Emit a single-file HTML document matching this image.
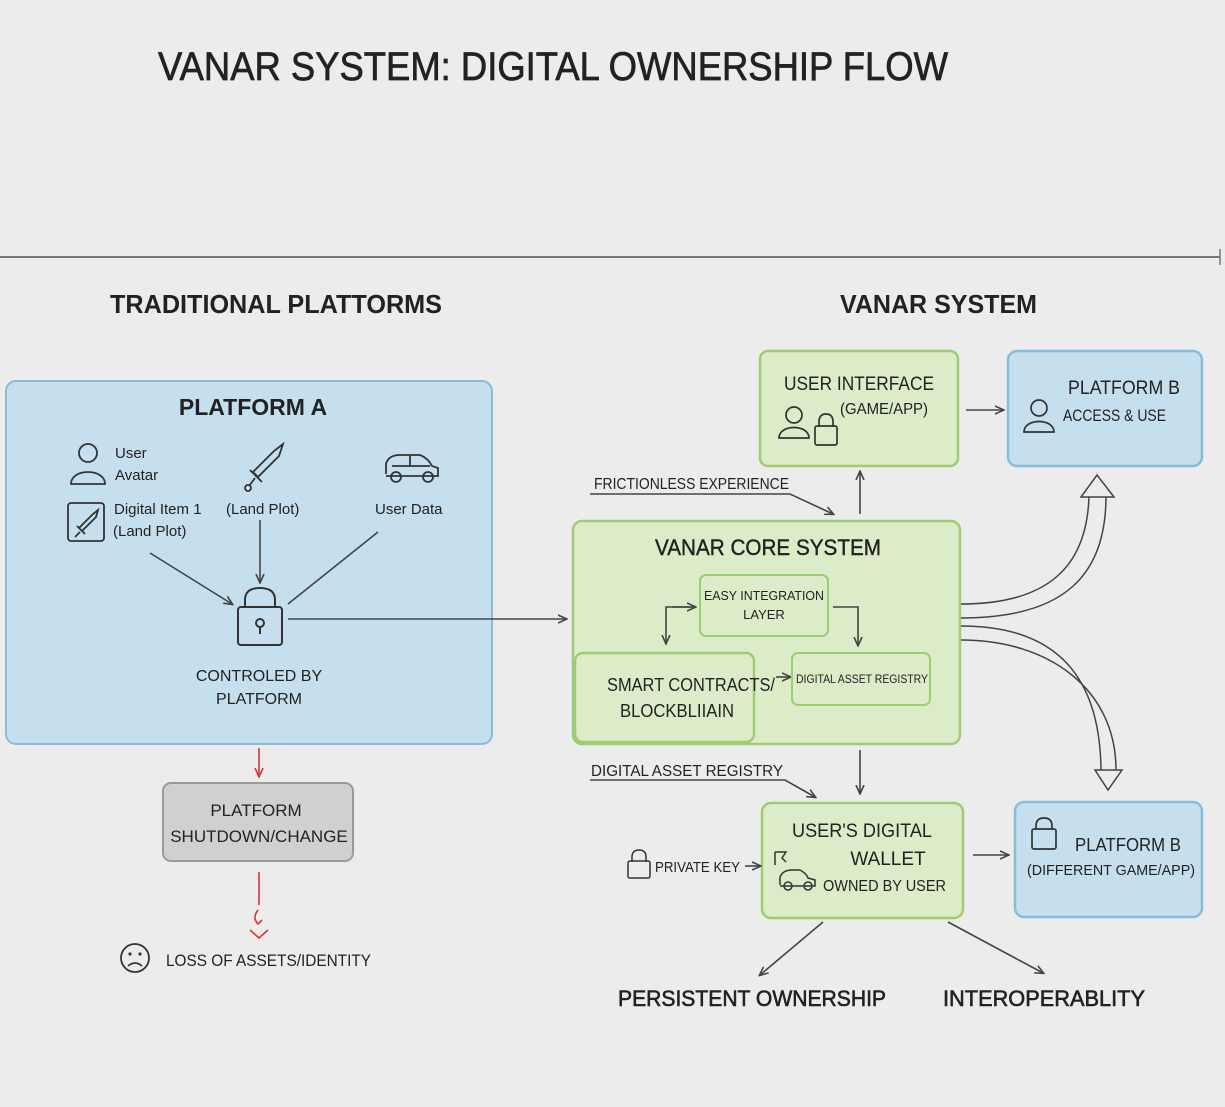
<!DOCTYPE html>
<html><head><meta charset="utf-8"><style>
html,body{margin:0;padding:0;background:#ececec;}
svg{display:block;font-family:"Liberation Sans",sans-serif;}
</style></head><body>
<svg width="1225" height="1107" viewBox="0 0 1225 1107" xmlns="http://www.w3.org/2000/svg">
<defs>
<marker id="ar" markerWidth="10" markerHeight="10" refX="8" refY="5" orient="auto" markerUnits="userSpaceOnUse"><path d="M0,1 L9,5 L0,9" fill="none" stroke="#444" stroke-width="1.6"/></marker>
<marker id="rr" markerWidth="10" markerHeight="10" refX="8" refY="5" orient="auto" markerUnits="userSpaceOnUse"><path d="M0,1 L9,5 L0,9" fill="none" stroke="#d33" stroke-width="1.6"/></marker>
</defs>
<rect width="1225" height="1107" fill="#ececec"/>
<text x="158" y="80" font-size="40" fill="#222" stroke="#222" stroke-width="0.7" textLength="790" lengthAdjust="spacingAndGlyphs">VANAR SYSTEM: DIGITAL OWNERSHIP FLOW</text>
<line x1="0" y1="257" x2="1220" y2="257" stroke="#777" stroke-width="2"/>
<line x1="1220" y1="249" x2="1220" y2="265" stroke="#777" stroke-width="1.5"/>
<text x="110" y="313" font-size="26" font-weight="bold" fill="#222" textLength="332" lengthAdjust="spacingAndGlyphs">TRADITIONAL PLATTORMS</text>
<text x="840" y="313" font-size="26" font-weight="bold" fill="#222" textLength="197" lengthAdjust="spacingAndGlyphs">VANAR SYSTEM</text>

<rect x="6" y="381" width="486" height="363" rx="10" fill="#c5dfee" stroke="#86bcdc" stroke-width="2"/>
<text x="253" y="415" font-size="23" font-weight="bold" fill="#222" text-anchor="middle">PLATFORM A</text>
<g fill="none" stroke="#333" stroke-width="1.8">
<circle cx="88" cy="453" r="9"/><path d="M71,484 C71,468 105,468 105,484 Z"/>
<path d="M283,444 L279,456 L258,477 L253,472 L274,451 Z M250,470 L262,482 M255,478 L249,486"/><circle cx="248" cy="488" r="3"/>
<path d="M386,474 L386,464 Q388,456 398,455 L420,455 Q428,458 432,466 L438,468 L438,476 L386,476"/><circle cx="396" cy="477" r="5"/><circle cx="428" cy="477" r="5"/><line x1="410" y1="455" x2="410" y2="466"/><line x1="392" y1="466" x2="430" y2="466"/>
<rect x="68" y="503" width="36" height="38" rx="3"/>
<path d="M98,510 L96,517 L82,531 L79,528 L93,514 Z M77,526 L85,534 M80,532 L75,537"/>
</g>
<text x="115" y="458" font-size="15" fill="#222">User</text>
<text x="115" y="480" font-size="15" fill="#222">Avatar</text>
<text x="114" y="514" font-size="15" fill="#222">Digital Item 1</text>
<text x="113" y="536" font-size="15" fill="#222">(Land Plot)</text>
<text x="226" y="514" font-size="15" fill="#222">(Land Plot)</text>
<text x="375" y="514" font-size="15" fill="#222">User Data</text>
<g stroke="#444" stroke-width="1.6" fill="none">
<line x1="150" y1="553" x2="232" y2="604" marker-end="url(#ar)"/>
<line x1="260" y1="520" x2="260" y2="582" marker-end="url(#ar)"/>
<line x1="378" y1="532" x2="288" y2="604"/>
<line x1="288" y1="619" x2="566" y2="619" marker-end="url(#ar)"/>
</g>
<g fill="none" stroke="#333" stroke-width="2">
<path d="M245,608 L245,600 Q245,588 260,588 Q275,588 275,600 L275,608"/>
<rect x="238" y="607" width="44" height="38" rx="3"/>
<circle cx="260" cy="623" r="4"/><line x1="260" y1="627" x2="260" y2="634"/>
</g>
<text x="259" y="681" font-size="16" fill="#222" text-anchor="middle">CONTROLED BY</text>
<text x="259" y="704" font-size="16" fill="#222" text-anchor="middle">PLATFORM</text>
<line x1="259" y1="748" x2="259" y2="776" stroke="#d33" stroke-width="1.6" marker-end="url(#rr)"/>
<rect x="163" y="783" width="190" height="78" rx="8" fill="#d0d0d0" stroke="#9a9a9a" stroke-width="2"/>
<text x="256" y="816" font-size="17" fill="#222" text-anchor="middle">PLATFORM</text>
<text x="259" y="842" font-size="17" fill="#222" text-anchor="middle">SHUTDOWN/CHANGE</text>
<g stroke="#d33" stroke-width="1.6" fill="none">
<line x1="259" y1="872" x2="259" y2="905"/>
<path d="M258,910 Q252,918 258,924 L262,920"/>
<path d="M250,930 L259,938 L268,930"/>
</g>
<circle cx="135" cy="958" r="14" fill="none" stroke="#333" stroke-width="1.8"/>
<circle cx="130" cy="954" r="1.6" fill="#333"/><circle cx="140" cy="954" r="1.6" fill="#333"/>
<path d="M128,966 Q135,960 142,966" fill="none" stroke="#333" stroke-width="1.6"/>
<text x="166" y="966" font-size="17" fill="#222" textLength="205" lengthAdjust="spacingAndGlyphs">LOSS OF ASSETS/IDENTITY</text>

<rect x="760" y="351" width="198" height="115" rx="8" fill="#dcebc8" stroke="#9fcc72" stroke-width="2.5"/>
<text x="859" y="390" font-size="19" fill="#222" text-anchor="middle" textLength="150" lengthAdjust="spacingAndGlyphs">USER INTERFACE</text>
<text x="840" y="414" font-size="16" fill="#222" textLength="88" lengthAdjust="spacingAndGlyphs">(GAME/APP)</text>
<g fill="none" stroke="#333" stroke-width="1.7">
<circle cx="794" cy="415" r="8"/><path d="M779,438 C779,424 809,424 809,438 Z"/>
<path d="M819,427 L819,422 Q819,414 826,414 Q833,414 833,422 L833,427"/><rect x="815" y="426" width="22" height="19" rx="2"/>
</g>
<line x1="966" y1="410" x2="1003" y2="410" stroke="#444" stroke-width="1.6" marker-end="url(#ar)"/>
<rect x="1008" y="351" width="194" height="115" rx="9" fill="#c5dfee" stroke="#86bcdc" stroke-width="2.5"/>
<text x="1068" y="394" font-size="19" fill="#222" textLength="112" lengthAdjust="spacingAndGlyphs">PLATFORM B</text>
<text x="1063" y="421" font-size="17" fill="#222" textLength="103" lengthAdjust="spacingAndGlyphs">ACCESS &amp; USE</text>
<g fill="none" stroke="#333" stroke-width="1.7"><circle cx="1039" cy="408" r="8"/><path d="M1024,432 C1024,418 1054,418 1054,432 Z"/></g>

<text x="594" y="489" font-size="16" fill="#222" textLength="195" lengthAdjust="spacingAndGlyphs">FRICTIONLESS EXPERIENCE</text>
<path d="M590,494 L790,494 L833,514" fill="none" stroke="#444" stroke-width="1.6" marker-end="url(#ar)"/>
<line x1="860" y1="514" x2="860" y2="472" stroke="#444" stroke-width="1.6" marker-end="url(#ar)"/>

<rect x="573" y="521" width="387" height="223" rx="9" fill="#dcebc8" stroke="#9fcc72" stroke-width="2.5"/>
<text x="768" y="555" font-size="22" fill="#222" stroke="#222" stroke-width="0.4" text-anchor="middle" textLength="226" lengthAdjust="spacingAndGlyphs">VANAR CORE SYSTEM</text>
<rect x="700" y="575" width="128" height="61" rx="6" fill="#dcebc8" stroke="#9fcc72" stroke-width="2"/>
<text x="764" y="600" font-size="13" fill="#222" text-anchor="middle" textLength="120" lengthAdjust="spacingAndGlyphs">EASY INTEGRATION</text>
<text x="764" y="619" font-size="13" fill="#222" text-anchor="middle">LAYER</text>
<g stroke="#444" stroke-width="1.6" fill="none">
<path d="M695,607 L666,607 L666,643" marker-end="url(#ar)"/>
<path d="M672,607 L695,607" marker-end="url(#ar)"/>
<path d="M833,607 L858,607 L858,645" marker-end="url(#ar)"/>
<line x1="776" y1="677" x2="790" y2="677" marker-end="url(#ar)"/>
</g>
<rect x="575" y="653" width="179" height="89" rx="8" fill="#dcebc8" stroke="#9fcc72" stroke-width="2.5"/>
<text x="607" y="691" font-size="18" fill="#222" textLength="168" lengthAdjust="spacingAndGlyphs">SMART CONTRACTS/</text>
<text x="620" y="717" font-size="18" fill="#222" textLength="114" lengthAdjust="spacingAndGlyphs">BLOCKBLIIAIN</text>
<rect x="792" y="653" width="138" height="52" rx="6" fill="#dcebc8" stroke="#9fcc72" stroke-width="2"/>
<text x="862" y="683" font-size="12" fill="#222" text-anchor="middle" textLength="132" lengthAdjust="spacingAndGlyphs">DIGITAL ASSET REGISTRY</text>

<g fill="none" stroke="#444" stroke-width="1.5">
<path d="M961,604 C1050,604 1087,565 1089,496"/>
<path d="M961,618 C1065,618 1106,575 1106,496"/>
<path d="M1081,497 L1097,475 L1114,497 Z" fill="#ececec"/>
<path d="M961,626 C1060,626 1100,680 1101,770"/>
<path d="M961,640 C1050,640 1116,690 1116,770"/>
<path d="M1095,770 L1108,790 L1122,770 Z" fill="#ececec"/>
</g>

<line x1="860" y1="750" x2="860" y2="793" stroke="#444" stroke-width="1.6" marker-end="url(#ar)"/>
<text x="591" y="776" font-size="16" fill="#222" textLength="192" lengthAdjust="spacingAndGlyphs">DIGITAL ASSET REGISTRY</text>
<path d="M590,780 L785,780 L815,797" fill="none" stroke="#444" stroke-width="1.6" marker-end="url(#ar)"/>

<rect x="762" y="803" width="201" height="115" rx="9" fill="#dcebc8" stroke="#9fcc72" stroke-width="2.5"/>
<text x="862" y="837" font-size="19" fill="#222" text-anchor="middle" textLength="140" lengthAdjust="spacingAndGlyphs">USER'S DIGITAL</text>
<text x="888" y="865" font-size="19" fill="#222" text-anchor="middle">WALLET</text>
<text x="823" y="891" font-size="16" fill="#222" textLength="123" lengthAdjust="spacingAndGlyphs">OWNED BY USER</text>
<g fill="none" stroke="#333" stroke-width="1.5">
<path d="M775,852 L775,865 M775,852 L786,852 L782,858 L786,862"/>
<path d="M780,885 L780,877 Q783,870 792,870 L800,870 Q806,873 808,878 L815,880 L815,886 L780,886"/><circle cx="788" cy="886" r="4"/><circle cx="808" cy="886" r="4"/>
<path d="M632,862 L632,857 Q632,850 639,850 Q646,850 646,857 L646,862"/><rect x="628" y="861" width="22" height="17" rx="2"/>
</g>
<text x="655" y="872" font-size="15" fill="#222" textLength="85" lengthAdjust="spacingAndGlyphs">PRIVATE KEY</text>
<line x1="745" y1="866" x2="760" y2="866" stroke="#444" stroke-width="1.6" marker-end="url(#ar)"/>
<line x1="973" y1="855" x2="1008" y2="855" stroke="#444" stroke-width="1.6" marker-end="url(#ar)"/>
<rect x="1015" y="802" width="187" height="115" rx="9" fill="#c5dfee" stroke="#86bcdc" stroke-width="2.5"/>
<g fill="none" stroke="#333" stroke-width="1.7">
<path d="M1036,830 L1036,826 Q1036,818 1044,818 Q1052,818 1052,826 L1052,830"/><rect x="1032" y="829" width="24" height="20" rx="2"/>
</g>
<text x="1075" y="851" font-size="18" fill="#222" textLength="106" lengthAdjust="spacingAndGlyphs">PLATFORM B</text>
<text x="1111" y="875" font-size="15" fill="#222" text-anchor="middle" textLength="168" lengthAdjust="spacingAndGlyphs">(DIFFERENT GAME/APP)</text>
<g stroke="#444" stroke-width="1.6">
<line x1="823" y1="922" x2="760" y2="975" marker-end="url(#ar)"/>
<line x1="948" y1="922" x2="1043" y2="973" marker-end="url(#ar)"/>
</g>
<text x="618" y="1006" font-size="22" fill="#222" stroke="#222" stroke-width="0.6" textLength="268" lengthAdjust="spacingAndGlyphs">PERSISTENT OWNERSHIP</text>
<text x="943" y="1006" font-size="22" fill="#222" stroke="#222" stroke-width="0.6" textLength="202" lengthAdjust="spacingAndGlyphs">INTEROPERABLITY</text>
</svg>
</body></html>
